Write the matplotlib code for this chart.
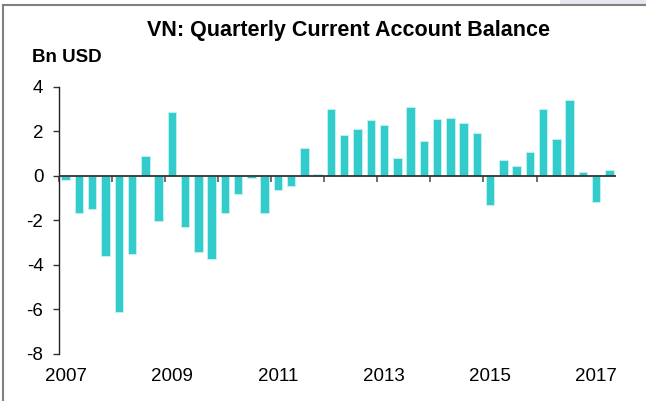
import matplotlib
matplotlib.use("Agg")
import matplotlib.pyplot as plt
from matplotlib.patches import Rectangle
from matplotlib.lines import Line2D

plt.rcParams['font.family'] = ['Liberation Sans', 'DejaVu Sans']

# Quarterly data 2007Q1 .. 2017Q2 (Bn USD)
quarters = [f"{y}Q{q}" for y in range(2007, 2018) for q in range(1, 5)][:42]
values = [
    -0.17, -1.66, -1.47, -3.61,   # 2007
    -6.12, -3.53, 0.88, -2.02,    # 2008
    2.87, -2.30, -3.43, -3.73,    # 2009
    -1.68, -0.81, -0.10, -1.65,   # 2010
    -0.63, -0.46, 1.27, 0.06,     # 2011
    2.98, 1.84, 2.08, 2.51,       # 2012
    2.30, 0.78, 3.07, 1.54,       # 2013
    2.56, 2.60, 2.39, 1.90,       # 2014
    -1.33, 0.69, 0.46, 1.08,      # 2015
    3.01, 1.63, 3.41, 0.15,       # 2016
    -1.17, 0.28,                  # 2017
]
year_labels = ["2007", "2009", "2011", "2013", "2015", "2017"]
y_ticks = [-8, -6, -4, -2, 0, 2, 4]
y_labels = ["-8", "-6", "-4", "-2", "0", "2", "4"]

title = "VN: Quarterly Current Account Balance"
unit = "Bn USD"
bar_color = "#33CCCC"

fig = plt.figure(figsize=(6.46, 4.01), dpi=100)
fig.patch.set_facecolor("white")

# frame / border decoration
fig.add_artist(Line2D([3/646, 3/646], [0, 1 - 5/401], color="#808080", lw=1.5,
                      transform=fig.transFigure))
fig.add_artist(Line2D([3/646, 1], [1 - 5/401, 1 - 5/401], color="#808080", lw=1.5,
                      transform=fig.transFigure))
fig.add_artist(Rectangle((560/646, 1 - 4/401), 86/646, 4/401, color="#e6e6f2",
                         transform=fig.transFigure, lw=0))

ax = fig.add_axes([59.1/646, 1 - 354/401, (616.1 - 59.1)/646, (354 - 86.7)/401])

x = list(range(len(values)))
ax.bar(x, values, width=0.64, color=bar_color, edgecolor="#c8f2f2", linewidth=0.6, zorder=2)
ax.axhline(0, color="#333333", lw=1.3, zorder=3)

ax.set_xlim(-0.5, len(values) - 0.5)
ax.set_ylim(-8, 4)

# y axis
ax.set_yticks(y_ticks)
ax.set_yticklabels(y_labels)
ax.tick_params(axis="y", direction="out", length=4.3, width=1.0, color="#333333",
               pad=7.0, labelsize=13.5, labelcolor="#000000")

# x labels at Q1 of every second year
label_pos = [quarters.index(f"{y}Q1") for y in year_labels]
ax.set_xticks(label_pos)
ax.set_xticklabels(year_labels)
ax.tick_params(axis="x", length=0, pad=10, labelsize=13.5)

for s in ["top", "right", "bottom"]:
    ax.spines[s].set_visible(False)
ax.spines["left"].set_color("#222222")
ax.spines["left"].set_linewidth(1.0)

# year-boundary ticks on the zero line
sec = ax.secondary_xaxis(8/12)
boundaries = [i - 0.5 for i in range(0, len(values) - 2, 4)]
sec.set_xticks(boundaries)
sec.set_xticklabels([""] * len(boundaries))
sec.tick_params(axis="x", which="major", direction="out", length=4.5, width=1.2,
                color="#555555", bottom=True, top=False)
sec.tick_params(axis="x", which="minor", bottom=False, top=False)
for s in sec.spines.values():
    s.set_visible(False)

fig.text(348.5/646, 1 - 36/401, title, ha="center", va="baseline",
         fontsize=15.5, fontweight="bold")
fig.text(32.3/646, 1 - 61.7/401, unit, ha="left", va="baseline",
         fontsize=13.5, fontweight="bold")

fig.savefig("out.png", dpi=100)
